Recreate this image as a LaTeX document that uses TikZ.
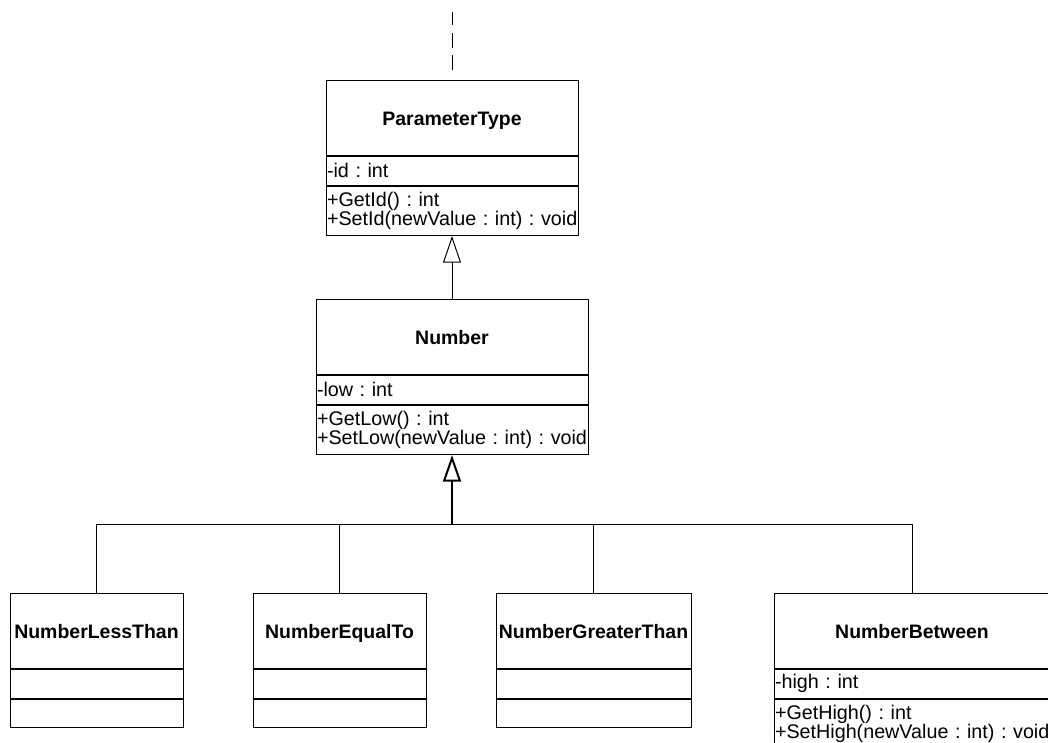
\documentclass[tikz,border=0pt]{standalone}
\usepackage{fontspec}
\setmainfont{Liberation Sans}
\usepackage{tikz}
\usetikzlibrary{arrows.meta}
\usetikzlibrary{positioning}
\frenchspacing

\begin{document}
\begin{tikzpicture}[x=0.75pt,y=-0.75pt,line width=0.75pt,
  cname/.style={draw,align=center,minimum height=56.25pt,inner sep=0.75pt,text height=10.5pt,text depth=0pt,font=\fontsize{14.6}{17}\selectfont\bfseries},
  cpart/.style={draw,align=left,minimum height=21.5pt,inner sep=0.75pt,font=\fontsize{14.8}{12.75}\selectfont},
  cops/.style={cpart,minimum height=37pt},
  gen/.style={-{Triangle[open,length=20pt,width=13.5pt]}}]
\useasboundingbox (0,0) rectangle (1048,742);
\clip (0,0) rectangle (1048,742);

% base classes
\node [cname,text width=187.5pt,anchor=north] (pt) at (452,80) {ParameterType};
\node [cpart,text width=187.5pt,below=0pt of pt] (pta) {-id : int};
\node [cops,text width=187.5pt,below=0pt of pta] (pto) {+GetId() : int\\+SetId(newValue~:~int)~:~void};

\node [cname,text width=202.5pt,anchor=north] (num) at (452,299) {Number};
\node [cpart,text width=202.5pt,below=0pt of num] (numa) {-low : int};
\node [cops,text width=202.5pt,below=0pt of numa] (numo) {+GetLow() : int\\+SetLow(newValue~:~int)~:~void};

% subclasses
\node [cname,text width=128.25pt,anchor=north] (nlt) at (96.5,593) {NumberLessThan};
\node [cpart,text width=128.25pt,below=0pt of nlt] (nlta) {};
\node [cpart,text width=128.25pt,below=0pt of nlta] (nlto) {};

\node [cname,text width=128.25pt,anchor=north] (net) at (339.5,593) {NumberEqualTo};
\node [cpart,text width=128.25pt,below=0pt of net] (neta) {};
\node [cpart,text width=128.25pt,below=0pt of neta] (neto) {};

\node [cname,text width=144.75pt,anchor=north] (ngt) at (593.5,593) {NumberGreaterThan};
\node [cpart,text width=144.75pt,below=0pt of ngt] (ngta) {};
\node [cpart,text width=144.75pt,below=0pt of ngta] (ngto) {};

\node [cname,text width=205.5pt,anchor=north] (nbt) at (912,593) {NumberBetween};
\node [cpart,text width=205.5pt,below=0pt of nbt] (nbta) {-high : int};
\node [cops,text width=205.5pt,below=0pt of nbta] (nbto) {+GetHigh() : int\\+SetHigh(newValue~:~int)~:~void};

\coordinate (dtop) at ([yshift=51pt]pt.north);
\coordinate (bus) at (452,524);

%\draw[dashed] (pt) -- (dtop);
\draw[dash pattern=on 11.25pt off 5.6pt,shorten <=7.5pt] (pt) -- (dtop);
\draw[gen] (num) -- (pto);
\draw[gen,line width=1.5pt] (bus) -- (numo);
\foreach \c in {nlt,net,ngt,nbt}
  \draw (\c) |- (bus);
\end{tikzpicture}
\end{document}
